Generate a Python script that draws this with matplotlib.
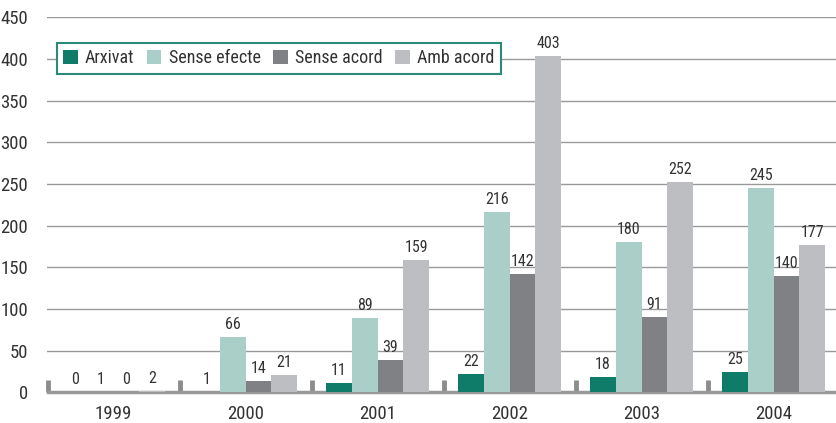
import matplotlib
matplotlib.use('Agg')
import matplotlib.pyplot as plt
from matplotlib import font_manager
import numpy as np

# pick a narrow face if there is one
fonts = [(f.name, f.stretch) for f in font_manager.fontManager.ttflist]
names = {n for n, s in fonts}
fontName = 'DejaVu Sans'
for cand in ['Liberation Sans Narrow', 'Roboto Condensed', 'Open Sans Condensed', 'Noto Sans Condensed']:
    if cand in names:
        fontName = cand
        break
plt.rcParams['font.family'] = [fontName, 'DejaVu Sans']
if fontName == 'DejaVu Sans' and ('DejaVu Sans', 'condensed') in fonts:
    plt.rcParams['font.stretch'] = 'condensed'

# %%

years = ['1999', '2000', '2001', '2002', '2003', '2004']
series = ['Arxivat', 'Sense efecte', 'Sense acord', 'Amb acord']
arxivat = [0, 1, 11, 22, 18, 25]
senseEfecte = [1, 66, 89, 216, 180, 245]
senseAcord = [0, 14, 39, 142, 91, 140]
ambAcord = [2, 21, 159, 403, 252, 177]
colors = ['#0f7b69', '#aacfc8', '#808185', '#bdbec2']

# %%

fig = plt.figure(figsize=(8.37, 4.23), dpi=100)
ax = fig.add_axes([47.5 / 837, 30.6 / 423, 789.5 / 837, 375.2 / 423])

x = np.arange(len(years))
w = 0.195
allData = [arxivat, senseEfecte, senseAcord, ambAcord]
for i, vals in enumerate(allData):
    pos = x + (i - 1.5) * w
    ax.bar(pos, vals, w, color=colors[i], label=series[i], zorder=3)
    for p, v in zip(pos, vals):
        ax.text(p, v + 6, str(v), ha='center', va='bottom', fontsize=11.5, color='#333333', zorder=4)

ax.set_ylim(0, 450)
ax.set_xlim(-0.5, 5.48)
ax.set_yticks(np.arange(0, 451, 50))
ax.yaxis.grid(True, color='#9a9a9a', linewidth=1, zorder=0)
ax.tick_params(axis='y', length=0, pad=14, labelsize=13.5, labelcolor='#333333')

ax.set_xticks(np.arange(-0.5, 5, 1))
ax.set_xticklabels([])
ax.tick_params(axis='x', which='major', direction='in', length=9, width=3.5, color='#8c8c8c')
ax.set_xticks(x, minor=True)
ax.set_xticklabels(years, minor=True)
ax.tick_params(axis='x', which='minor', length=0, pad=9, labelsize=13.5, labelcolor='#333333')

for s in ['top', 'right', 'left']:
    ax.spines[s].set_visible(False)
ax.spines['bottom'].set_color('#999999')
ax.spines['bottom'].set_linewidth(2.5)

leg = ax.legend(loc='upper left', bbox_to_anchor=(0.012, 0.931), borderaxespad=0, ncol=4,
                fontsize=13, frameon=True, fancybox=False, handlelength=0.8, handleheight=0.8,
                handletextpad=0.4, columnspacing=0.7, borderpad=0.35)
leg.get_frame().set_edgecolor('#2b8a78')
leg.get_frame().set_linewidth(1.5)
leg.get_frame().set_alpha(1)
leg.set_zorder(5)
for t in leg.get_texts():
    t.set_color('#333333')

plt.savefig('out.png', dpi=100)
